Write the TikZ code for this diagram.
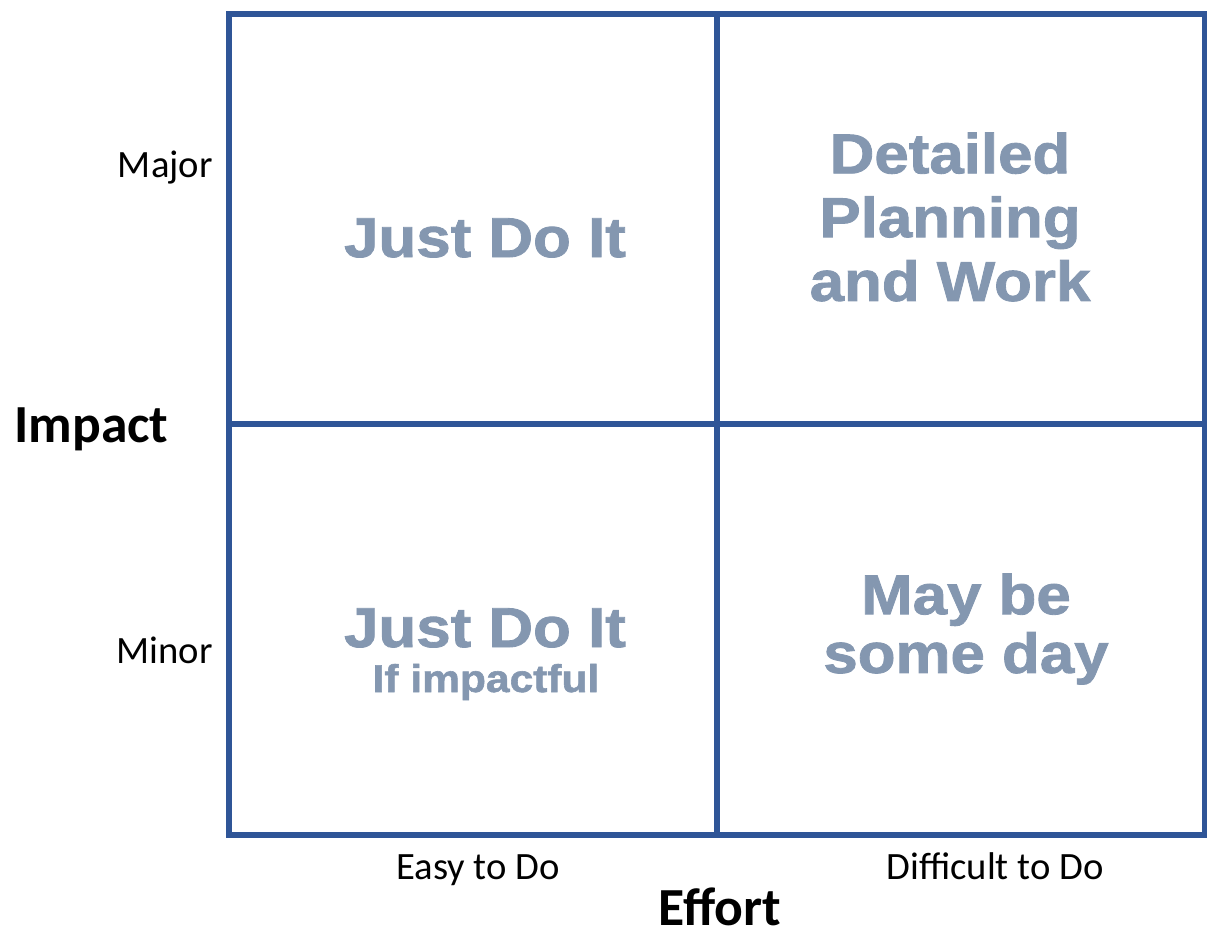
\documentclass[tikz,border=0pt]{standalone}
\usepackage{fontspec}
\setmainfont{Carlito}
\newfontfamily\heavyfont{Liberation Sans}[FakeStretch=1.1,BoldFeatures={FakeBold=1.5}]
\usepackage{xcolor}
\usetikzlibrary{positioning}

\definecolor{gridblue}{HTML}{2F5597}
\definecolor{slate}{HTML}{8497B0}

\tikzset{
    quad/.style={text=slate, font=\heavyfont\bfseries\fontsize{32}{36.3}\selectfont, align=center, inner sep=0pt},
    quadsub/.style={text=slate, font=\heavyfont\bfseries\fontsize{22}{26}\selectfont, inner sep=0pt},
    level/.style={font=\fontsize{22}{26}\selectfont, inner sep=0pt},
    axis/.style={font=\bfseries\fontsize{30.5}{34}\selectfont, inner sep=0pt}
}

\begin{document}
\begin{tikzpicture}[x=0.02cm, y=-0.02cm]
    % Page frame
    \useasboundingbox (0,0) rectangle (1207,930);

    % Two by two grid
    \draw[gridblue, line width=3.2pt] (229,14) rectangle (1205,835);
    \draw[gridblue, line width=3.2pt] (717,14) -- (717,835);
    \draw[gridblue, line width=3.2pt] (229,424) -- (1205,424);

    % Quadrant texts
    \node[quad, anchor=base] (easymajor) at (485,257) {Just Do It};
    \node[quad] (hardmajor) at (950,217) {Detailed\\Planning\\and Work};
    \node[quad, anchor=base] (easyminor) at (485,647) {Just Do It};
    \node[quadsub, anchor=base] (easyminorsub) at (486,692) {If impactful};
    \node[quad, font=\heavyfont\bfseries\fontsize{32}{33.4}\selectfont] (hardminor) at (966,629) {May be\\some day};

    % Impact levels
    \node[level, anchor=base east] (major) at (213,177) {Major};
    \node[level, anchor=base east] (minor) at (213,663) {Minor};
    \node[axis, anchor=base west] (impact) at (14,442) {Impact};

    % Effort levels
    \node[level, anchor=base] (easy) at (478,879) {Easy to Do};
    \node[level, anchor=base] (hard) at (995,879) {Difficult to Do};
    \node[axis, anchor=base] (effort) at (720,925) {Effort};
\end{tikzpicture}
\end{document}
